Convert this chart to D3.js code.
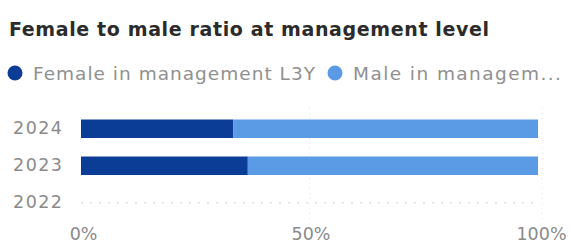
<!DOCTYPE html>
<html>
<head>
<meta charset="utf-8">
<script src="https://cdn.jsdelivr.net/npm/d3@7"></script>
<style>
  body { margin: 0; background: #fff; }
  text { font-family: "DejaVu Sans", "Noto Sans", sans-serif; }
</style>
</head>
<body>
<div id="chart"></div>
<script>
// values
const years = ["2024", "2023", "2022"];
const female = [33.3, 36.5, null];
const male = [66.7, 63.5, null];
const seriesNames = ["Female in management L3Y", "Male in managem..."];
const seriesColors = ["#0c3d96", "#5b9be6"];
const xTicks = [0, 50, 100];

const width = 571;
const height = 248;

const svg = d3.select("#chart").append("svg")
    .attr("width", width)
    .attr("height", height);

// title
svg.append("text")
    .attr("x", 9)
    .attr("y", 36)
    .attr("font-size", 19)
    .attr("font-weight", 700)
    .attr("fill", "#2b2b2b")
    .attr("textLength", 480)
    .attr("lengthAdjust", "spacing")
    .text("Female to male ratio at management level");

// legend
const legendX = [15, 335];
const legendW = [282, 208];
seriesNames.forEach((name, i) => {
    svg.append("circle")
        .attr("cx", legendX[i])
        .attr("cy", 73)
        .attr("r", 7.5)
        .attr("fill", seriesColors[i]);
    svg.append("text")
        .attr("x", legendX[i] + 18)
        .attr("y", 80)
        .attr("font-size", 18.5)
        .attr("fill", "#909090")
        .attr("textLength", legendW[i])
        .attr("lengthAdjust", "spacing")
        .text(name);
});

const x = d3.scaleLinear([0, 100], [81, 538]);
const y = d3.scaleBand(years, [101, 230.5]).padding(0.5);

// dotted vertical gridlines
svg.append("g")
    .selectAll("line")
    .data(xTicks.slice(1))
    .join("line")
    .attr("x1", d => x(d) + (d === 100 ? 4 : 0))
    .attr("x2", d => x(d) + (d === 100 ? 4 : 0))
    .attr("y1", 108)
    .attr("y2", 220)
    .attr("stroke", "#e4e4e4")
    .attr("stroke-dasharray", "1,4");

// empty year row shows a faint dotted line
svg.append("g")
    .selectAll("line")
    .data(years.filter((d, i) => female[i] == null))
    .join("line")
    .attr("x1", x(0))
    .attr("x2", x(100))
    .attr("y1", d => y(d) + y.bandwidth() / 2)
    .attr("y2", d => y(d) + y.bandwidth() / 2)
    .attr("stroke", "#ead9e2")
    .attr("stroke-width", 1.5)
    .attr("stroke-dasharray", "2,7");

// stacked bars
const rows = years.map((yr, i) => ({year: yr, female: female[i], male: male[i]}))
    .filter(d => d.female != null);
const stack = d3.stack().keys(["female", "male"]);
const layers = stack(rows);

svg.append("g")
    .selectAll("g")
    .data(layers)
    .join("g")
    .attr("fill", (d, i) => seriesColors[i])
    .selectAll("rect")
    .data(d => d)
    .join("rect")
    .attr("x", d => x(d[0]))
    .attr("width", d => x(d[1]) - x(d[0]))
    .attr("y", d => y(d.data.year))
    .attr("height", y.bandwidth());

// y axis labels
const yAxis = svg.append("g")
    .attr("transform", "translate(62,0)")
    .call(d3.axisLeft(y).tickSize(0).tickPadding(0));
yAxis.select(".domain").remove();
yAxis.selectAll("text")
    .attr("font-family", "\"DejaVu Sans\", sans-serif")
    .attr("font-size", 17.5)
    .attr("fill", "#8a8a8a")
    .attr("textLength", 49)
    .attr("lengthAdjust", "spacing");

// x axis labels
const xAxis = svg.append("g")
    .attr("transform", "translate(0,228)")
    .call(d3.axisBottom(x).tickValues(xTicks).tickFormat(d => d + "%").tickSize(0).tickPadding(0));
xAxis.select(".domain").remove();
xAxis.selectAll("text")
    .attr("font-family", "\"DejaVu Sans\", sans-serif")
    .attr("font-size", 17.5)
    .attr("fill", "#8a8a8a")
    .attr("dx", d => d === 0 ? 2 : d === 100 ? 3 : 1);
</script>
</body>
</html>
